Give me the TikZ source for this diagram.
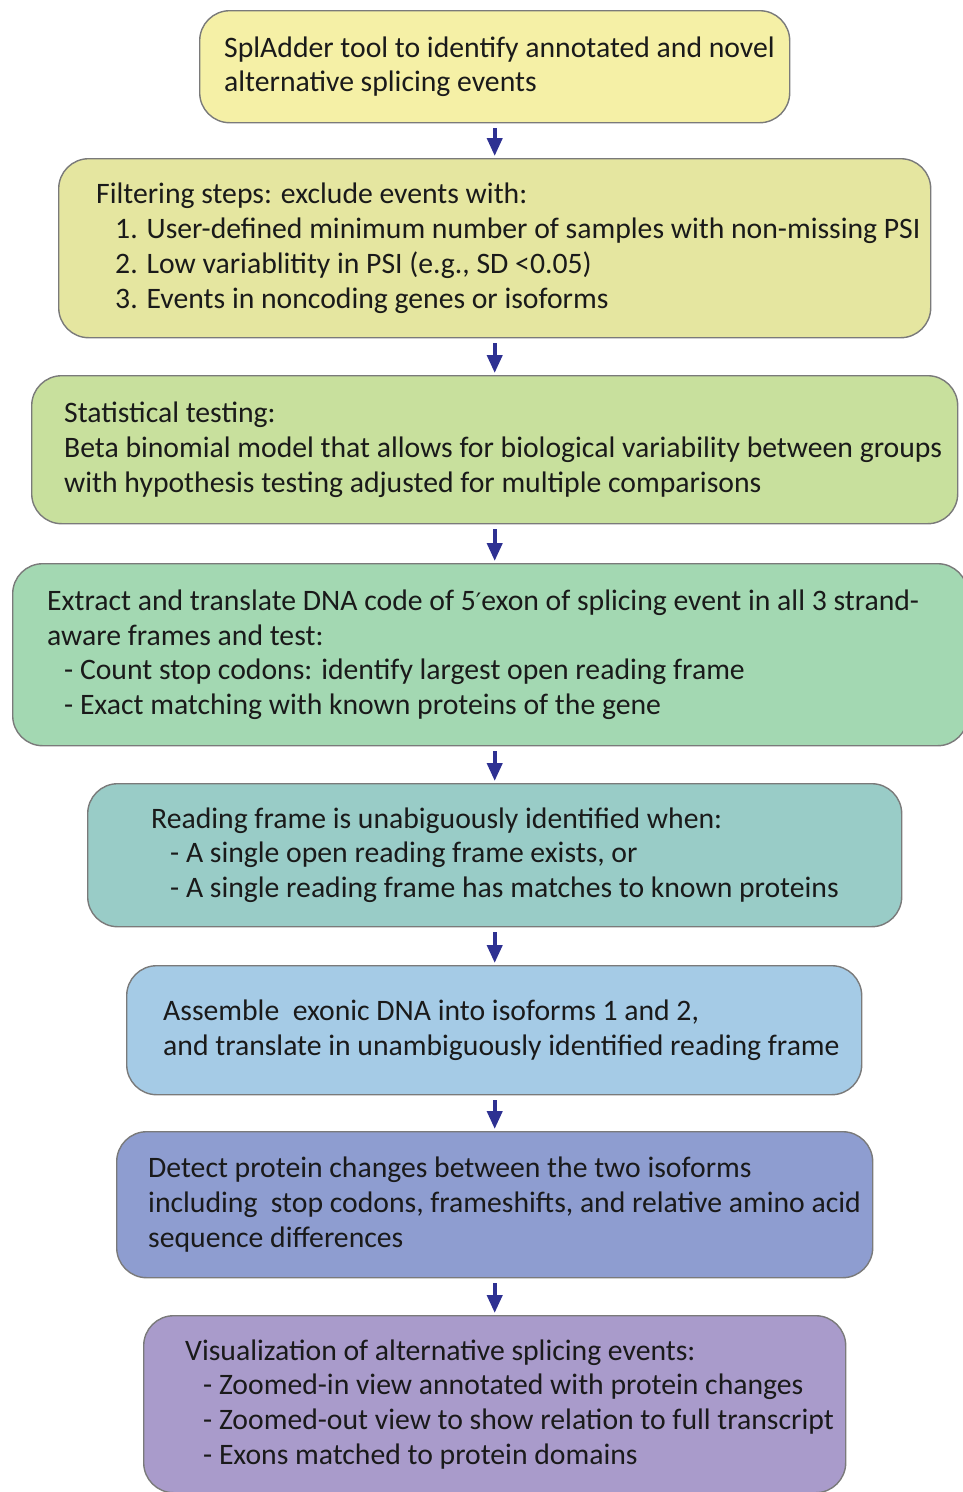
\documentclass[tikz,border=0pt]{standalone}
\usepackage{fontspec}
\setmainfont{Carlito}
\newfontfamily\symfont{DejaVu Sans}
\usetikzlibrary{arrows.meta}
\definecolor{c1}{HTML}{F5F0A6}
\definecolor{c2}{HTML}{E5E6A0}
\definecolor{c3}{HTML}{C8E09D}
\definecolor{c4}{HTML}{A3D8B2}
\definecolor{c5}{HTML}{99CCC7}
\definecolor{c6}{HTML}{A5CBE6}
\definecolor{c7}{HTML}{8E9DD0}
\definecolor{c8}{HTML}{A99BCB}
\definecolor{bordergray}{HTML}{7A7A7A}
\definecolor{arrowblue}{HTML}{2E3192}
\definecolor{textblack}{HTML}{1A1A1A}
\begin{document}
\begin{tikzpicture}[x=1pt,y=-1pt,
  stepbox/.style={draw=bordergray, line width=1.4pt, rounded corners=30pt, anchor=north west, inner sep=0pt},
  txt/.style={anchor=west, align=left, inner sep=0pt, text=textblack, font=\fontsize{29.7}{34.7}\selectfont},
  arr/.style={draw=arrowblue, line width=4pt, -{Triangle[length=18pt,width=15pt]}, shorten <=5pt, shorten >=2pt}]
\useasboundingbox (0,0) rectangle (963,1492);
\begin{scope}
\clip (0,0) rectangle (963,1492);
\node[stepbox, fill=c1, minimum width=590pt, minimum height=112pt] (b1) at (199,10) {};
\node[stepbox, fill=c2, minimum width=872pt, minimum height=179pt] (b2) at (58,158) {};
\node[stepbox, fill=c3, minimum width=926pt, minimum height=148pt] (b3) at (31,375) {};
\node[stepbox, fill=c4, minimum width=955pt, minimum height=182pt] (b4) at (12,563) {};
\node[stepbox, fill=c5, minimum width=814pt, minimum height=143pt] (b5) at (87,783) {};
\node[stepbox, fill=c6, minimum width=735pt, minimum height=129pt] (b6) at (126,965) {};
\node[stepbox, fill=c7, minimum width=756pt, minimum height=146pt] (b7) at (116,1131) {};
\node[stepbox, fill=c8, minimum width=702pt, minimum height=177pt] (b8) at (143,1315) {};
\end{scope}
\node[txt] (t1) at ([xshift=25pt]b1.west) {SplAdder tool to identify annotated and novel\\alternative splicing events};
\node[txt] (t2) at ([xshift=38pt]b2.west) {Filtering steps: exclude events with:\\
\hspace*{19pt}1. User-defined minimum number of samples with non-missing PSI\\
\hspace*{19pt}2. Low variablitity in PSI (e.g., SD <0.05)\\
\hspace*{19pt}3. Events in noncoding genes or isoforms};
\node[txt] (t3) at ([xshift=33pt]b3.west) {Statistical testing:\\
Beta binomial model that allows for biological variability between groups\\
with hypothesis testing adjusted for multiple comparisons};
\node[txt] (t4) at ([xshift=35pt]b4.west) {Extract and translate DNA code of 5{\symfont\fontsize{24}{24}\selectfont ′}exon of splicing event in all 3 strand-\\
aware frames and test:\\
\hspace*{17pt}- Count stop codons: identify largest open reading frame\\
\hspace*{17pt}- Exact matching with known proteins of the gene};
\node[txt] (t5) at ([xshift=64pt]b5.west) {Reading frame is unabiguously identified when:\\
\hspace*{19pt}- A single open reading frame exists, or\\
\hspace*{19pt}- A single reading frame has matches to known proteins};
\node[txt] (t6) at ([xshift=37pt]b6.west) {Assemble\ \ exonic DNA into isoforms 1 and 2,\\
and translate in unambiguously identified reading frame};
\node[txt] (t7) at ([xshift=32pt]b7.west) {Detect protein changes between the two isoforms\\
including\ \ stop codons, frameshifts, and relative amino acid\\
sequence differences};
\node[txt] (t8) at ([xshift=42pt]b8.west) {Visualization of alternative splicing events:\\
\hspace*{18pt}- Zoomed-in view annotated with protein changes\\
\hspace*{18pt}- Zoomed-out view to show relation to full transcript\\
\hspace*{18pt}- Exons matched to protein domains};
\draw[arr] (b1.south) -- (b2.north -| b1.south);
\draw[arr] (b2.south -| b1.south) -- (b3.north -| b1.south);
\draw[arr] (b3.south -| b1.south) -- (b4.north -| b1.south);
\draw[arr] (b4.south -| b1.south) -- (b5.north -| b1.south);
\draw[arr] (b5.south -| b1.south) -- (b6.north -| b1.south);
\draw[arr] (b6.south -| b1.south) -- (b7.north -| b1.south);
\draw[arr] (b7.south -| b1.south) -- (b8.north -| b1.south);
\end{tikzpicture}
\end{document}
